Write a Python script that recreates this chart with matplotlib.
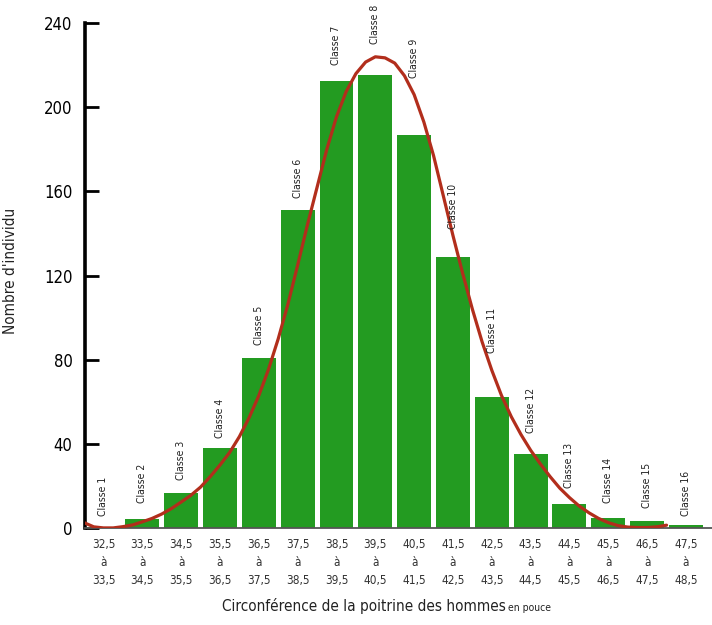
import matplotlib
matplotlib.use('Agg')
import matplotlib.pyplot as plt

###############################################################################
#0. Data
###############################################################################

classNames = ['Classe ' + str(i) for i in range(1, 17)]
bounds = ['32,5', '33,5', '34,5', '35,5', '36,5', '37,5', '38,5', '39,5', '40,5',
          '41,5', '42,5', '43,5', '44,5', '45,5', '46,5', '47,5', '48,5']
counts = [0.5, 4.5, 16.5, 38, 81, 151, 212.5, 215.5, 187, 129, 62.5, 35, 11.5, 5, 3.3, 1.4]

#Fitted curve, points (x in class units, 0 = classe 1)
curveX = [-0.5, -0.25, 0.0, 0.25, 0.5, 0.75, 1.0, 1.25, 1.5, 1.75,
          2.0, 2.25, 2.5, 2.75, 3.0, 3.25, 3.5, 3.75, 4.0, 4.25,
          4.5, 4.75, 5.0, 5.25, 5.5, 5.75, 6.0, 6.25, 6.5, 6.75,
          7.0, 7.25, 7.5, 7.75, 8.0, 8.25, 8.5, 8.75, 9.0, 9.25,
          9.5, 9.75, 10.0, 10.25, 10.5, 10.75, 11.0, 11.25, 11.5, 11.75,
          12.0, 12.25, 12.5, 12.75, 13.0, 13.25, 13.5, 13.75, 14.0, 14.25, 14.5]
curveY = [2.6, 0.6, 0.1, 0.1, 0.7, 1.5, 3.0, 4.6, 6.7, 9.3,
          12.4, 15.6, 19.5, 24.5, 30, 36, 43.5, 52.5, 63, 75.5,
          90, 106.5, 125, 144, 162, 180, 195.5, 207.5, 216, 221.5,
          224, 223.5, 221, 215, 206, 193, 177, 158, 139, 121,
          104, 88.5, 75, 63, 53, 44.5, 37, 30.5, 24.5, 19,
          14.5, 10.5, 7.3, 4.6, 2.6, 1.2, 0.5, 0.3, 0.3, 0.6, 1.4]

#Where each "Classe n" label sits (bottom of text, in y units)
labelY = [6, 12, 23, 43, 87, 157, 220, 230, 214, 142, 83, 45, 19, 12, 9.5, 6]

###############################################################################
#1. Fonts
###############################################################################

plt.rcParams['font.family'] = ['DejaVu Sans']
plt.rcParams['font.stretch'] = 'condensed'

###############################################################################
#2. Figure
###############################################################################

fig = plt.figure(figsize=(7.12, 6.25), dpi=100)
ax = fig.add_axes([0.1194, 0.155, 0.8806, 0.808])

xs = list(range(len(counts)))
ax.bar(xs, counts, width=0.875, color='#239b21', edgecolor='none', zorder=2)
ax.plot(curveX, curveY, color='#b22e1c', lw=2.3, solid_capstyle='round',
        solid_joinstyle='round', zorder=3)

for i, name in enumerate(classNames):
    ax.text(xs[i], labelY[i], name, rotation=90, ha='center', va='bottom',
            fontsize=7.5, color='#222222', zorder=4)

#Axes formatting
ax.set_xlim(-0.476, 15.67)
ax.set_ylim(0, 240)
ax.set_yticks([0, 40, 80, 120, 160, 200, 240])
ax.set_xticks(xs)
ax.set_xticklabels([bounds[i] + '\nà\n' + bounds[i + 1] for i in xs],
                   fontsize=8.5, linespacing=1.5, color='#333333')
ax.tick_params(axis='x', length=0, pad=7)
ax.tick_params(axis='y', direction='in', length=10, width=2, pad=9,
               labelsize=12, colors='black')

for side in ['top', 'right']:
    ax.spines[side].set_visible(False)
ax.spines['left'].set_linewidth(2.6)
ax.spines['left'].set_bounds(0, 240)
ax.spines['bottom'].set_linewidth(1.3)
ax.spines['bottom'].set_color('#555555')

ax.set_ylabel("Nombre d'individu", fontsize=11, color='#222222')
ax.yaxis.set_label_coords(-0.107, 0.51)

fig.text(0.711, 0.022, 'Circonférence de la poitrine des hommes', ha='right',
         va='baseline', fontsize=11, color='#222222')
fig.text(0.713, 0.022, 'en pouce', ha='left', va='baseline', fontsize=7.5,
         color='#222222')

plt.savefig('out.png', dpi=100)
